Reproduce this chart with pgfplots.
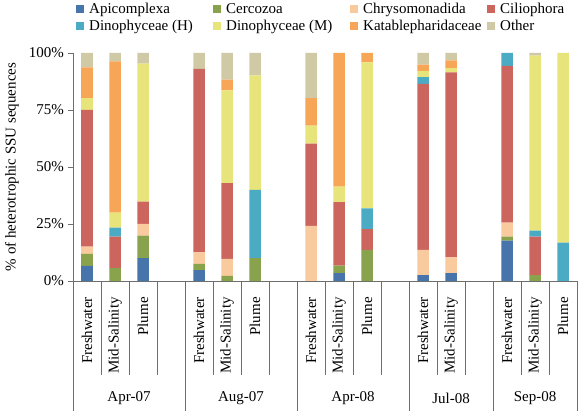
\documentclass[border=0pt]{standalone}
\usepackage{fontspec}
\setmainfont{Liberation Serif}
\usepackage{pgfplots}
\usepackage{pgfplotstable}
\pgfplotsset{compat=1.18}
\definecolor{cApi}{HTML}{4674AB}
\definecolor{cCerc}{HTML}{89A24C}
\definecolor{cChry}{HTML}{FACA9F}
\definecolor{cCili}{HTML}{CD655F}
\definecolor{cDinH}{HTML}{4BAAC4}
\definecolor{cDinM}{HTML}{E7E47B}
\definecolor{cKata}{HTML}{F7A556}
\definecolor{cOth}{HTML}{D0C9A6}
\definecolor{axgray}{HTML}{6E6E6E}
\pgfplotstableread{
x Api Cerc Chry Cili DinH DinM Kata Oth
0 6.6 5.3 3.2 60.0 0 5.1 13.5 6.3
1 0 5.6 0 13.9 3.9 6.6 66.3 3.7
2 10.0 9.9 5.1 9.8 0 60.5 0 4.7
4 4.8 2.7 5.1 80.4 0 0 0 7.0
5 0 2.3 7.4 33.2 0 40.7 4.7 11.7
6 0 10.0 0 0 30.0 50.2 0 9.8
8 0 0 24.2 36.0 0 7.9 12.1 19.8
9 3.4 3.3 0 27.9 0 6.8 58.6 0
10 0 13.6 0 9.1 9.2 64.0 4.1 0
12 2.6 0 11.0 72.9 2.9 2.8 2.7 5.1
13 3.4 0 7.0 81.1 0 1.9 3.4 3.2
15 17.7 1.8 6.1 68.8 5.6 0 0 0
16 0 2.6 0 16.9 2.6 76.8 0 1.1
17 0 0 0 0 16.8 83.2 0 0
}\data
\pgfplotsset{leg/.style={legend image code/.code={\fill[##1] (0pt,-3.5pt) rectangle (7.5pt,4pt); \path (13pt,0pt);}}}
\begin{document}
\begin{tikzpicture}[font=\fontsize{15}{18}\selectfont]
\begin{axis}[
 scale only axis, width=504pt, height=228pt,
 xmin=-0.5, xmax=17.5, ymin=0, ymax=100,
 ybar stacked, bar width=11.5pt,
 axis lines=left, axis line style={-, draw=axgray},
 ytick={0,25,50,75,100}, yticklabels={0\%,25\%,50\%,75\%,100\%},
 ytick style={draw=axgray}, tick align=outside, major tick length=5pt,
 yticklabel style={anchor=east, inner sep=0pt, xshift=-4pt},
 xtick={0,1,2,4,5,6,8,9,10,12,13,15,16,17},
 xticklabels={Freshwater,Mid-Salinity,Plume,Freshwater,Mid-Salinity,Plume,Freshwater,Mid-Salinity,Plume,Freshwater,Mid-Salinity,Freshwater,Mid-Salinity,Plume},
 xtick style={draw=none},
 xticklabel style={yshift=-11pt, rotate=90, anchor=east, inner sep=0pt},
 clip=false,
 legend columns=4,
 legend cell align=left,
 legend style={draw=none, fill=none, at={(axis description cs:0,1)}, anchor=north west, xshift=3pt, yshift=50pt, inner sep=0pt, row sep=5pt, nodes={inner sep=0pt}},
]
\addplot[fill=cApi, draw=none, leg] table[x=x,y=Api]{\data};
\addlegendentry{\makebox[124pt][l]{Apicomplexa}}
\addplot[fill=cCerc, draw=none, leg] table[x=x,y=Cerc]{\data};
\addlegendentry{\makebox[124pt][l]{Cercozoa}}
\addplot[fill=cChry, draw=none, leg] table[x=x,y=Chry]{\data};
\addlegendentry{\makebox[124pt][l]{Chrysomonadida}}
\addplot[fill=cCili, draw=none, leg] table[x=x,y=Cili]{\data};
\addlegendentry{\makebox[80pt][l]{Ciliophora}}
\addplot[fill=cDinH, draw=none, leg] table[x=x,y=DinH]{\data};
\addlegendentry{\makebox[124pt][l]{Dinophyceae (H)}}
\addplot[fill=cDinM, draw=none, leg] table[x=x,y=DinM]{\data};
\addlegendentry{\makebox[124pt][l]{Dinophyceae (M)}}
\addplot[fill=cKata, draw=none, leg] table[x=x,y=Kata]{\data};
\addlegendentry{\makebox[124pt][l]{Katablepharidaceae}}
\addplot[fill=cOth, draw=none, leg] table[x=x,y=Oth]{\data};
\addlegendentry{\makebox[80pt][l]{Other}}
\pgfplotsinvokeforeach{0.5,1.5,2.5,4.5,5.5,6.5,8.5,9.5,10.5,12.5,13.5,15.5,16.5}{
  \draw[axgray] (axis cs:#1,0) -- ++(0pt,-94pt);
}
\pgfplotsinvokeforeach{-0.5,3.5,7.5,11.5,14.5,17.5}{
  \draw[axgray] (axis cs:#1,0) -- ++(0pt,-130pt);
}
\node at (axis cs:1.5,0) [yshift=-117pt] {Apr-07};
\node at (axis cs:5.5,0) [yshift=-117pt] {Aug-07};
\node at (axis cs:9.5,0) [yshift=-117pt] {Apr-08};
\node at (axis cs:13,0) [yshift=-117pt] {Jul-08};
\node at (axis cs:16,0) [yshift=-117pt] {Sep-08};
\end{axis}
\node[rotate=90] at (-61pt,114pt) {\% of heterotrophic SSU sequences};
\pgfresetboundingbox
\path (-73pt,-130pt) rectangle (505pt,281pt);
\end{tikzpicture}
\end{document}
